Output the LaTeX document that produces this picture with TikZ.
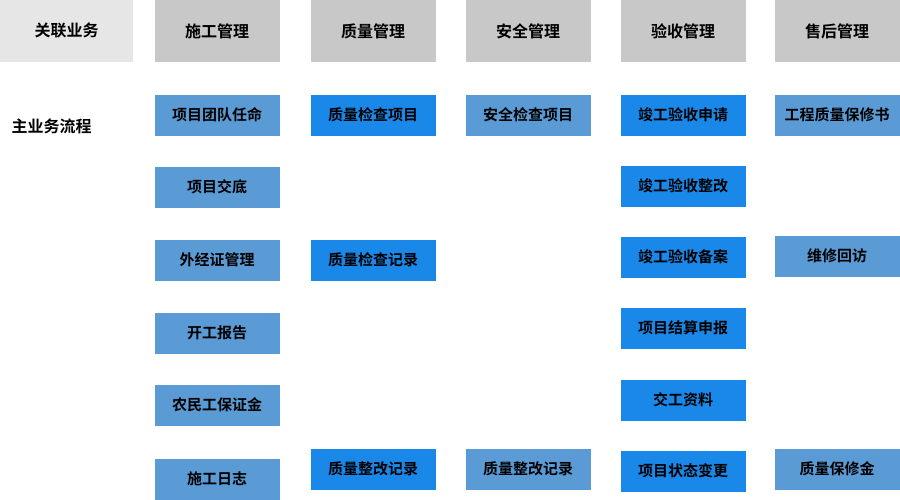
\documentclass[tikz,border=0pt]{standalone}
\usepackage{fontspec}
\setmainfont{Noto Sans CJK SC Bold}
\usetikzlibrary{positioning}
\definecolor{hdrlight}{HTML}{E6E6E6}
\definecolor{hdrgray}{HTML}{C8C8C8}
\definecolor{boxlight}{HTML}{5B9BD5}
\definecolor{boxbright}{HTML}{1A88E8}
\tikzset{
    hdr/.style={fill=hdrgray, minimum width=125pt, minimum height=62pt, inner sep=0pt, font=\fontsize{16}{16}\selectfont},
    lbox/.style={fill=boxlight, draw=white, minimum width=126pt, minimum height=42pt, inner sep=0pt, font=\fontsize{15}{15}\selectfont},
    bbox/.style={lbox, fill=boxbright},
}
\begin{document}
\begin{tikzpicture}[x=1pt,y=-1pt]
	\useasboundingbox (0,0) rectangle (900,500);
	% header row
	\node[hdr, fill=hdrlight, minimum width=133pt] (h0) at (66.5,31) {关联业务};
	\node[hdr] (h1) at (217,31) {施工管理};
	\node[hdr] (h2) at (373,31) {质量管理};
	\node[hdr] (h3) at (528,31) {安全管理};
	\node[hdr] (h4) at (683,31) {验收管理};
	\node[hdr] (h5) at (837,31) {售后管理};
	\node[anchor=west, font=\fontsize{16}{16}\selectfont] (main) at (8,126) {主业务流程};
	% construction
	\node[lbox] (c1) at (217,115) {项目团队任命};
	\node[lbox] (c2) at (217,187) {项目交底};
	\node[lbox] (c3) at (217,260) {外经证管理};
	\node[lbox] (c4) at (217,333) {开工报告};
	\node[lbox] (c5) at (217,405) {农民工保证金};
	\node[lbox] (c6) at (217,479) {施工日志};
	% quality
	\node[bbox] (q1) at (373,115) {质量检查项目};
	\node[bbox] (q2) at (373,260) {质量检查记录};
	\node[bbox] (q3) at (373,469) {质量整改记录};
	% safety
	\node[lbox] (s1) at (528,115) {安全检查项目};
	\node[lbox] (s2) at (528,469) {质量整改记录};
	% acceptance
	\node[bbox] (a1) at (683,115) {竣工验收申请};
	\node[bbox] (a2) at (683,186) {竣工验收整改};
	\node[bbox] (a3) at (683,257) {竣工验收备案};
	\node[bbox] (a4) at (683,328) {项目结算申报};
	\node[bbox] (a5) at (683,400) {交工资料};
	\node[bbox] (a6) at (683,471) {项目状态变更};
	% after-sales
	\node[lbox] (m1) at (837,115) {工程质量保修书};
	\node[lbox] (m2) at (837,256) {维修回访};
	\node[lbox] (m3) at (837,469) {质量保修金};
\end{tikzpicture}
\end{document}
